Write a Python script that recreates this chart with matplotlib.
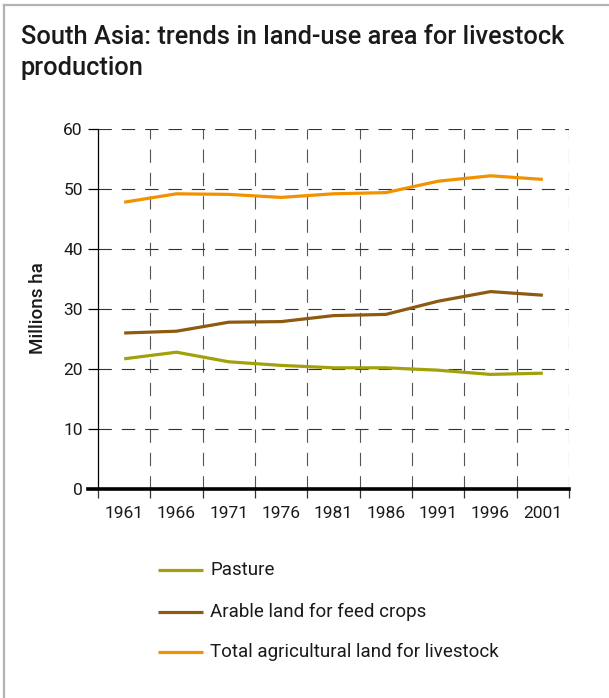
import matplotlib
matplotlib.use('Agg')
import matplotlib.pyplot as plt
from matplotlib.lines import Line2D
import numpy as np

plt.rcParams['font.family'] = ['Roboto', 'DejaVu Sans']

# data (millions ha)
years = ['1961', '1966', '1971', '1976', '1981', '1986', '1991', '1996', '2001']
pasture = [21.7, 22.8, 21.2, 20.6, 20.2, 20.2, 19.8, 19.1, 19.3]
arable = [26.0, 26.3, 27.8, 27.9, 28.9, 29.1, 31.3, 32.9, 32.3]
total = [47.8, 49.2, 49.1, 48.6, 49.2, 49.4, 51.3, 52.2, 51.6]
series_names = ['Pasture', 'Arable land for feed crops',
                'Total agricultural land for livestock']
series_colors = ['#a3a10a', '#8e5a12', '#f39200']
y_ticks = [0, 10, 20, 30, 40, 50, 60]

W, H = 609, 698
fig = plt.figure(figsize=(W / 100, H / 100), dpi=100)

# frame (left + top only)
fig.add_artist(Line2D([4 / W, 4 / W], [0, 1 - 5 / H], color='#b3b3b3', lw=1.6))
fig.add_artist(Line2D([4 / W, 1], [1 - 5 / H, 1 - 5 / H], color='#b3b3b3', lw=1.6))

fig.text(21 / W, 1 - 25 / H,
         'South Asia: trends in land-use area for livestock\nproduction',
         fontsize=18.3, fontweight='medium', color='#1a1a1a', va='top',
         ha='left', linespacing=1.38)

ax = fig.add_axes([98 / W, 1 - 489 / H, (569 - 98) / W, (489 - 129) / H])
ax.set_xlim(0, len(years))
ax.set_ylim(0, 60)

x = np.arange(len(years)) + 0.5

# dashed grid
for v in range(1, len(years) + 1):
    ax.axvline(v, color='#555555', lw=0.8, linestyle=(0, (12, 9)), zorder=1)
for h in y_ticks[1:]:
    ax.axhline(h, color='#333333', lw=0.8, linestyle=(0, (12, 9)), zorder=1)

for vals, name, c in zip([pasture, arable, total], series_names, series_colors):
    ax.plot(x, vals, color=c, lw=2.3, zorder=3, solid_capstyle='butt')

# thick baseline, running a little left of the y axis
ax.axhline(0, xmin=-0.021, xmax=1.0, color='black', lw=2.6, clip_on=False, zorder=5)

for s in ['top', 'right', 'bottom']:
    ax.spines[s].set_visible(False)
ax.spines['left'].set_linewidth(0.9)
ax.spines['left'].set_color('black')

ax.set_xticks(range(len(years) + 1))
ax.set_xticklabels([])
ax.set_xticks(x, minor=True)
ax.set_xticklabels(years, minor=True)
ax.tick_params(axis='x', which='major', direction='out', length=6.5, width=0.9,
               color='#333333')
ax.tick_params(axis='x', which='minor', length=0, pad=12, labelsize=12.5,
               labelcolor='#1a1a1a')

ax.set_yticks(y_ticks)
ax.tick_params(axis='y', direction='out', length=7, width=0.9, pad=4,
               labelsize=12.5, labelcolor='#1a1a1a')

fig.text(38 / W, 1 - 308 / H, 'Millions ha', rotation=90, fontsize=13.5,
         fontweight='medium', ha='center', va='center', color='#1a1a1a')

# legend drawn by hand below the chart
leg_y = [570, 612, 652]
for yy, name, c in zip(leg_y, series_names, series_colors):
    fig.add_artist(Line2D([158 / W, 203 / W], [1 - yy / H, 1 - yy / H],
                          color=c, lw=2.3, solid_capstyle='butt'))
    fig.text(210 / W, 1 - yy / H, name, fontsize=13.5, ha='left', va='center',
             color='#1a1a1a')

fig.savefig('out.png', dpi=100)
